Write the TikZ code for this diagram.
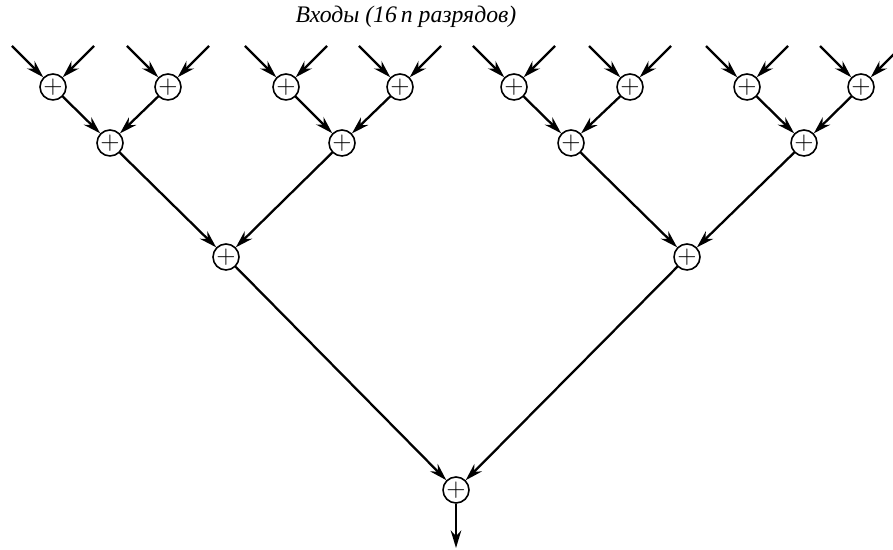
\documentclass[tikz,border=0pt]{standalone}
\usepackage{fontspec}
\setmainfont{Liberation Serif}
\usetikzlibrary{arrows.meta,calc}
\begin{document}
\begin{tikzpicture}[x=0.02cm,y=-0.02cm,>={Stealth[length=10pt,width=6pt]}]
\tikzstyle{sum}=[circle,draw,line width=0.9pt,minimum size=0.52cm,inner sep=0pt,
                 font=\Large]
\tikzstyle{wire}=[->,line width=1.3pt]
\useasboundingbox (0,0) rectangle (893,550);
\node[font=\fontsize{13.5}{16}\selectfont\itshape] (title) at (406,17)
  {Входы (16\,n разрядов)};
% first rank
\foreach \i/\x in {1/53,2/168,3/286,4/400,5/514,6/630,7/747,8/861}
  \node[sum] (a\i) at (\x,87) {$+$};
% second rank
\foreach \i/\x in {1/110,2/342,3/571,4/804}
  \node[sum] (b\i) at (\x,143) {$+$};
\node[sum] (c1) at (226,257) {$+$};
\node[sum] (c2) at (687,257) {$+$};
\node[sum] (d) at (456,490) {$+$};
\coordinate (out) at (456,548);
% inputs
\foreach \i in {1,...,8} {
  \coordinate (inL\i) at ($(a\i)+(-41,-41)$);
  \coordinate (inR\i) at ($(a\i)+(41,-41)$);
  \draw[wire] (inL\i) -- (a\i);
  \draw[wire] (inR\i) -- (a\i);
}
\draw[wire] (a1) -- (b1);
\draw[wire] (a2) -- (b1);
\draw[wire] (a3) -- (b2);
\draw[wire] (a4) -- (b2);
\draw[wire] (a5) -- (b3);
\draw[wire] (a6) -- (b3);
\draw[wire] (a7) -- (b4);
\draw[wire] (a8) -- (b4);
\draw[wire] (b1) -- (c1);
\draw[wire] (b2) -- (c1);
\draw[wire] (b3) -- (c2);
\draw[wire] (b4) -- (c2);
\draw[wire] (c1) -- (d);
\draw[wire] (c2) -- (d);
\draw[wire] (d) -- (out);
\end{tikzpicture}
\end{document}
